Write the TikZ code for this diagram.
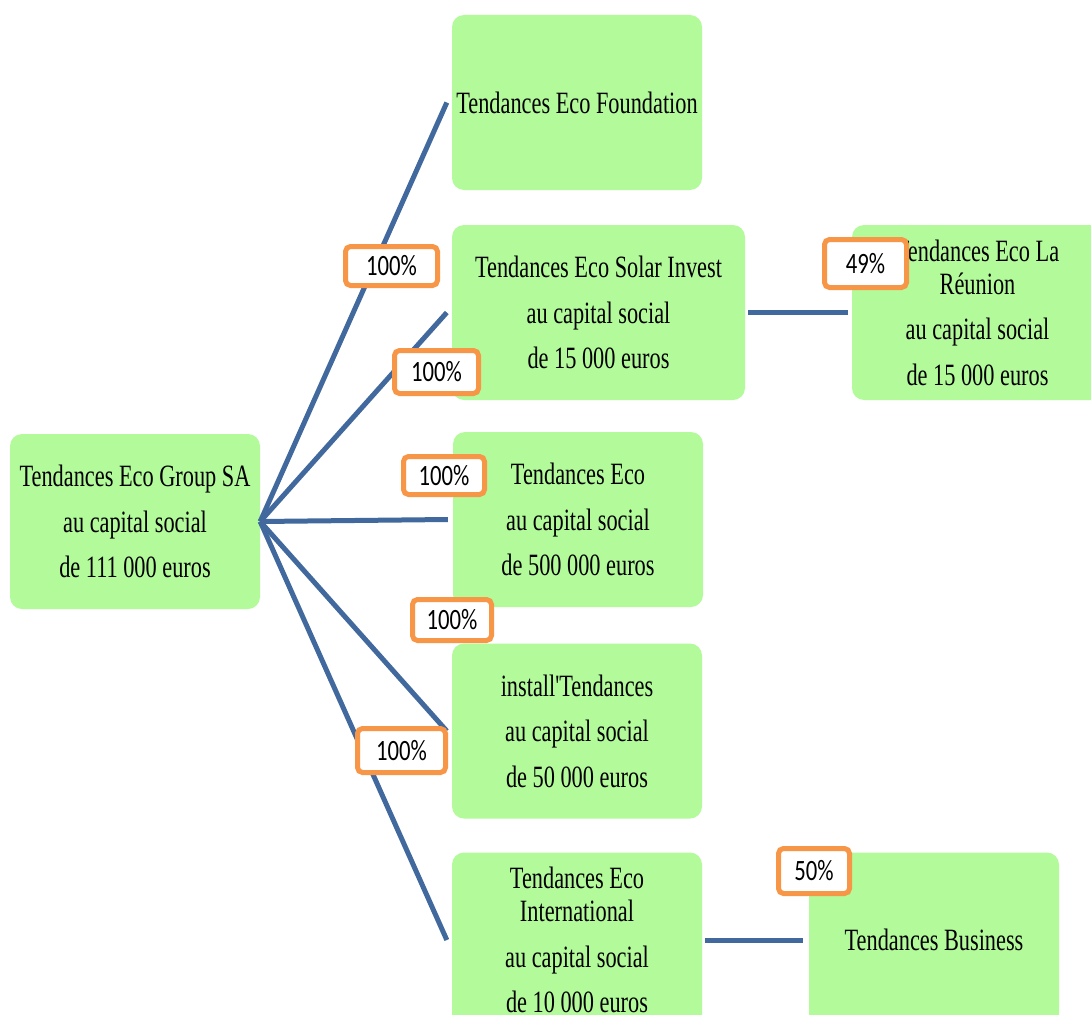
\documentclass[tikz,border=0pt]{standalone}
\usepackage{fontspec}
\setmainfont[FakeStretch=0.72,Ligatures=TeXOff]{Liberation Serif}
\newfontfamily\pctfont[FakeStretch=0.77]{Carlito}
\definecolor{boxgreen}{HTML}{B3FA9B}
\definecolor{linkblue}{HTML}{41699D}
\definecolor{pctorange}{HTML}{F79646}
\newcommand{\pb}{\\[12.5pt]}
\begin{document}
\begin{tikzpicture}[x=1pt,y=-1pt,
  box/.style={fill=boxgreen, rounded corners=12pt, draw=none, inner sep=0pt,
    align=center, font=\fontsize{31}{33}\selectfont, text=black,
    minimum width=250pt, minimum height=175pt},
  link/.style={draw=linkblue, line width=5pt},
  pct/.style={draw=pctorange, line width=5pt, fill=white, rounded corners=5pt,
    inner sep=0pt, font=\pctfont\fontsize{29.5}{31}\selectfont, text=black}]
\useasboundingbox (0,0) rectangle (1091,1014);
\clip (0,0) rectangle (1091,1014);
% boxes
\node[box] (g) at (135,521.5) {Tendances Eco Group SA\pb au capital social\pb de 111 000 euros};
\node[box] (f) at (577,102.5) {Tendances Eco Foundation};
\node[box, minimum width=293pt] (s) at (598.5,312.5) {Tendances Eco Solar Invest\pb au capital social\pb de 15 000 euros};
\node[box, minimum width=251pt] (r) at (977.5,312.5) {Tendances Eco La\\R\'eunion\pb au capital social\pb de 15 000 euros};
\node[box] (e) at (578,519.5) {Tendances Eco\pb au capital social\pb de 500 000 euros};
\node[box] (i) at (577,731) {install'Tendances\pb au capital social\pb de 50 000 euros};
\node[box] (n) at (577,940) {Tendances Eco\\International\pb au capital social\pb de 10 000 euros};
\node[box] (b) at (934,940) {Tendances Business};
% connectors
\draw[link] (g.east) -- ([xshift=-5pt]f.west);
\draw[link] (g.east) -- ([xshift=-5pt]s.west);
\draw[link] (g.east) -- ([xshift=-5pt]e.west);
\draw[link] (g.east) -- ([xshift=-5pt]i.west);
\draw[link] (g.east) -- ([xshift=-5pt]n.west);
\draw[link] ([xshift=3pt]s.east) -- ([xshift=-4pt]r.west);
\draw[link] ([xshift=3pt]n.east) -- ([xshift=-6pt]b.west);
% percentage labels
\node[pct, minimum width=92pt, minimum height=39pt] (p1) at (391.5,266) {100\%};
\node[pct, minimum width=84pt, minimum height=43pt] (p2) at (436.5,372) {100\%};
\node[pct, minimum width=81pt, minimum height=38pt] (p3) at (444,475.5) {100\%};
\node[pct, minimum width=79pt, minimum height=41pt] (p4) at (452,620) {100\%};
\node[pct, minimum width=88pt, minimum height=44pt] (p5) at (401.5,750.5) {100\%};
\node[pct, minimum width=82pt, minimum height=48pt] (p6) at (865.5,263.5) {49\%};
\node[pct, minimum width=71pt, minimum height=45pt] (p7) at (814,871) {50\%};
\end{tikzpicture}
\end{document}
